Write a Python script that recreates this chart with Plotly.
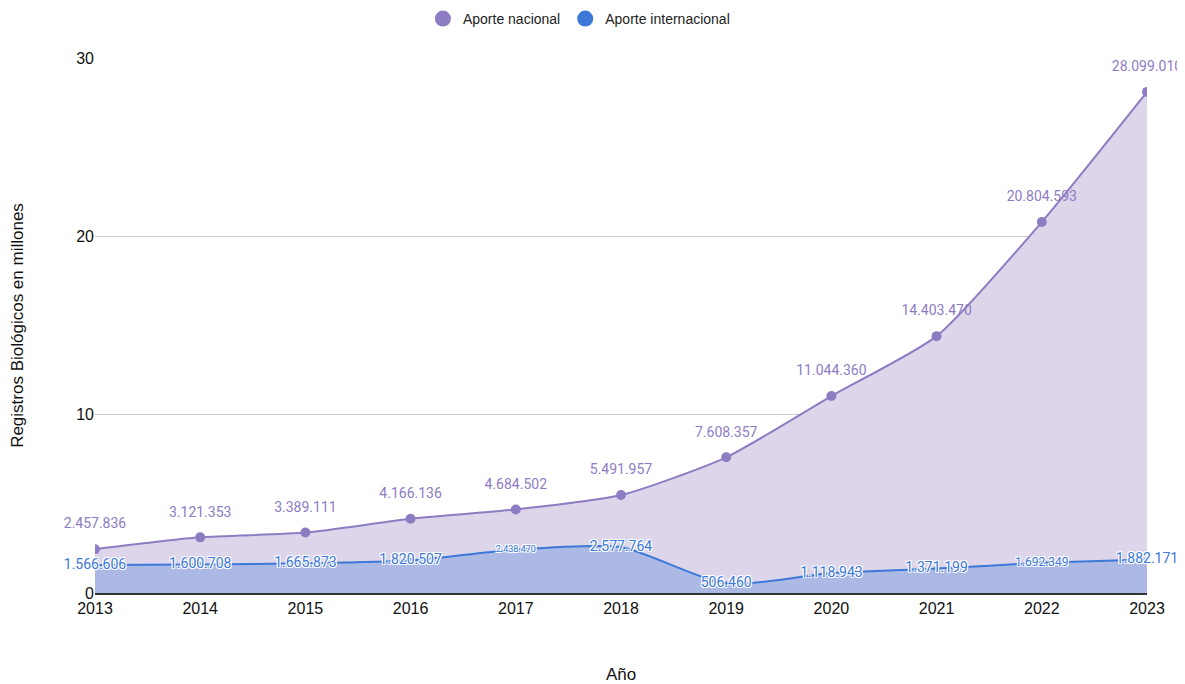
import plotly.graph_objects as go

years = [2013, 2014, 2015, 2016, 2017, 2018, 2019, 2020, 2021, 2022, 2023]
nacional = [2457836, 3121353, 3389111, 4166136, 4684502, 5491957,
            7608357, 11044360, 14403470, 20804593, 28099010]
internacional = [1566606, 1600708, 1665873, 1820507, 2438470, 2577764,
                 506460, 1118943, 1371199, 1692349, 1882171]
series_names = ["Aporte nacional", "Aporte internacional"]
series_colors = ["#8e7cc3", "#3c78d8"]


def fmt(v):
    return f"{v:,}".replace(",", ".")


halo = ("-1px -1px 0 #fff, 1px -1px 0 #fff, -1px 1px 0 #fff, 1px 1px 0 #fff,"
        " 0 0 2px #fff")
nac_m = [v / 1e6 for v in nacional]
int_m = [v / 1e6 for v in internacional]

fig = go.Figure()
fig.add_trace(go.Scatter(
    x=years, y=nac_m, name=series_names[0], showlegend=False,
    mode="lines+markers", line=dict(color=series_colors[0], width=2, shape="spline", smoothing=0.6),
    marker=dict(size=10, color=series_colors[0]),
    fill="tozeroy", fillcolor="#ddd6eb",
))
fig.add_trace(go.Scatter(
    x=years, y=int_m, name=series_names[1], showlegend=False,
    mode="lines+markers", line=dict(color=series_colors[1], width=2, shape="spline", smoothing=0.6),
    marker=dict(size=5, color=series_colors[1]),
    fill="tozeroy", fillcolor="rgba(60,120,216,0.3)",
))
# value labels (separate traces so they are not clipped while markers are)
fig.add_trace(go.Scatter(
    x=years, y=nac_m, mode="markers+text", showlegend=False, hoverinfo="skip",
    marker=dict(size=26, opacity=0),
    text=[fmt(v) for v in nacional], textposition="top center",
    textfont=dict(color=series_colors[0], size=14, family="Roboto, Arial"),
    cliponaxis=False,
))
fig.add_trace(go.Scatter(
    x=years, y=int_m, mode="text", showlegend=False, hoverinfo="skip",
    text=[fmt(v) for v in internacional], textposition="middle center",
    textfont=dict(color=series_colors[1], size=[14, 14, 14, 14, 9, 14, 14, 14, 14, 12, 14],
                  family="Roboto, Arial", shadow=halo),
    cliponaxis=False,
))
# legend entries: plain circles
for name, col in zip(series_names, series_colors):
    fig.add_trace(go.Scatter(x=[None], y=[None], mode="markers", name=name,
                             marker=dict(size=16, color=col)))

# the page adds an 8px body margin, so the figure is sized to fit the window
fig.update_layout(
    width=1177, height=676,
    paper_bgcolor="white", plot_bgcolor="white",
    margin=dict(l=87, r=38, t=50, b=91, autoexpand=False),
    font=dict(family="Liberation Sans, Arial", color="#222"),
    showlegend=True,
    legend=dict(orientation="h", x=0.46, xanchor="center", y=1.073, yanchor="middle",
                font=dict(size=14), itemwidth=30, tracegroupgap=0),
    xaxis=dict(
        tickmode="array", tickvals=years, ticktext=[str(y) for y in years],
        range=[2013, 2023], showgrid=False, tickfont=dict(size=16, color="#111"),
        title=dict(text="Año", font=dict(size=17, color="#111"), standoff=56),
        showline=True, linecolor="#333", linewidth=1.5, ticks="",
    ),
    yaxis=dict(
        range=[0, 30], tickvals=[0, 10, 20, 30], gridcolor="#cccccc",
        tickfont=dict(size=16, color="#111"), zeroline=False,
        title=dict(text="Registros Biológicos en millones", font=dict(size=17, color="#111"), standoff=48),
    ),
)

fig.write_html("out.html")
